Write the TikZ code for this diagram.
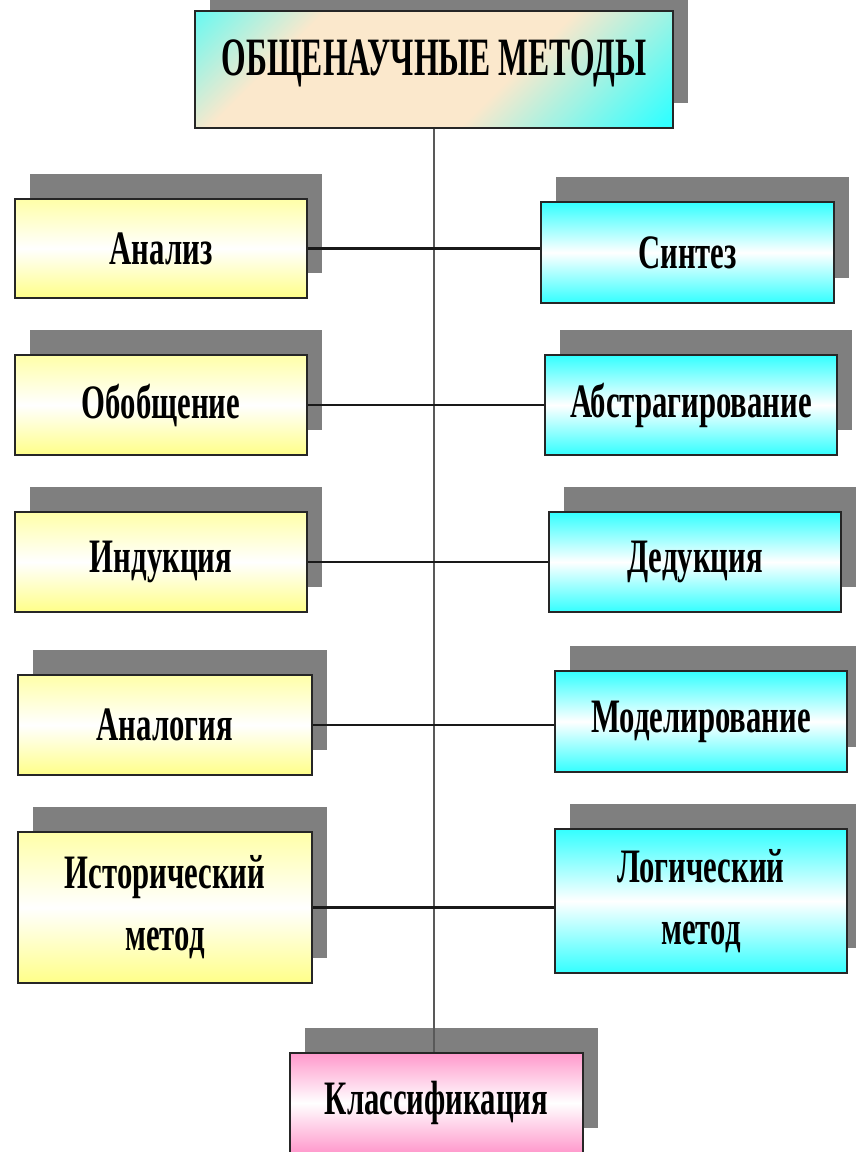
\documentclass[tikz,border=0pt]{standalone}
\usepackage{fontspec}
\newfontfamily\boxfont[FakeStretch=0.64]{Liberation Serif}
\newfontfamily\titlefont[FakeStretch=0.586]{Liberation Serif}
\usetikzlibrary{shadows}
\definecolor{yel}{HTML}{FFFF88}
\definecolor{yeltop}{HTML}{FFFFA8}
\definecolor{cya}{HTML}{33FFFF}
\definecolor{pnk}{HTML}{FF99CC}
\definecolor{tbeige}{HTML}{FBE8CC}
\definecolor{shad}{HTML}{7F7F7F}
\pgfdeclarehorizontalshading{titleshade}{100bp}{color(0bp)=(cya); color(9bp)=(cya); color(30bp)=(tbeige); color(60bp)=(tbeige); color(84bp)=(cya); color(100bp)=(cya)}
\tikzset{
  mbox/.style={rectangle, draw=black!85, line width=1.5pt, inner sep=0pt,
    align=center, font=\boxfont\bfseries\fontsize{48}{62}\selectfont,
    drop shadow={shadow xshift=15pt, shadow yshift=25pt, fill=shad, opacity=1}},
  ybox/.style={mbox, top color=yeltop, bottom color=yel, middle color=white},
  cbox/.style={mbox, top color=cya, bottom color=cya, middle color=white},
  pbox/.style={mbox, top color=pnk, bottom color=pnk, middle color=white},
  tbox/.style={mbox, shading=titleshade, shading angle=-45},
  ttext/.style={inner sep=0pt, font=\titlefont\bfseries\fontsize{54}{64}\selectfont},
  conn/.style={line width=2.5pt, draw=black!90},
  vline/.style={line width=2.5pt, draw=black!65}
}
\begin{document}
\begin{tikzpicture}[x=1pt, y=-1pt]
\useasboundingbox (0,0) rectangle (856,1152);
\clip (0,0) rectangle (856,1152);
\fill[white] (0,0) rectangle (856,1152);
% top
\node[tbox, minimum width=478pt, minimum height=117pt] (top) at (434,69.5) {};
\node[ttext] (toptext) at ([yshift=6pt]top.center) {ОБЩЕНАУЧНЫЕ МЕТОДЫ};
% left column
\node[ybox, minimum width=292pt, minimum height=99pt] (ana) at (161,248.5) {Анализ};
\node[ybox, minimum width=292pt, minimum height=100pt] (obo) at (161,405) {Обобщение};
\node[ybox, minimum width=292pt, minimum height=100pt] (ind) at (161,562) {Индукция};
\node[ybox, minimum width=294pt, minimum height=100pt] (anl) at (165,725) {Аналогия};
\node[ybox, minimum width=294pt, minimum height=151pt] (ist) at (165,907.5) {Исторический\\метод};
% right column
\node[cbox, minimum width=293pt, minimum height=101pt] (sin) at (687.5,252.5) {Синтез};
\node[cbox, minimum width=292pt, minimum height=100pt] (abs) at (691,405) {Абстрагирование};
\node[cbox, minimum width=292pt, minimum height=100pt] (ded) at (695,562) {Дедукция};
\node[cbox, minimum width=292pt, minimum height=101pt] (mod) at (701,721.5) {Моделирование};
\node[cbox, minimum width=292pt, minimum height=144pt] (log) at (701,901) {Логический\\метод};
% bottom
\node[pbox, minimum width=293pt, minimum height=100pt] (kla) at (436.5,1103) {Классификация};
% connectors
\draw[vline] (top.south) -- (top.south |- kla.north);
\foreach \a/\b in {ana/sin, obo/abs, ind/ded, anl/mod, ist/log}
  \draw[conn] (\a.east) -- (\a.east -| \b.west);
\end{tikzpicture}
\end{document}
